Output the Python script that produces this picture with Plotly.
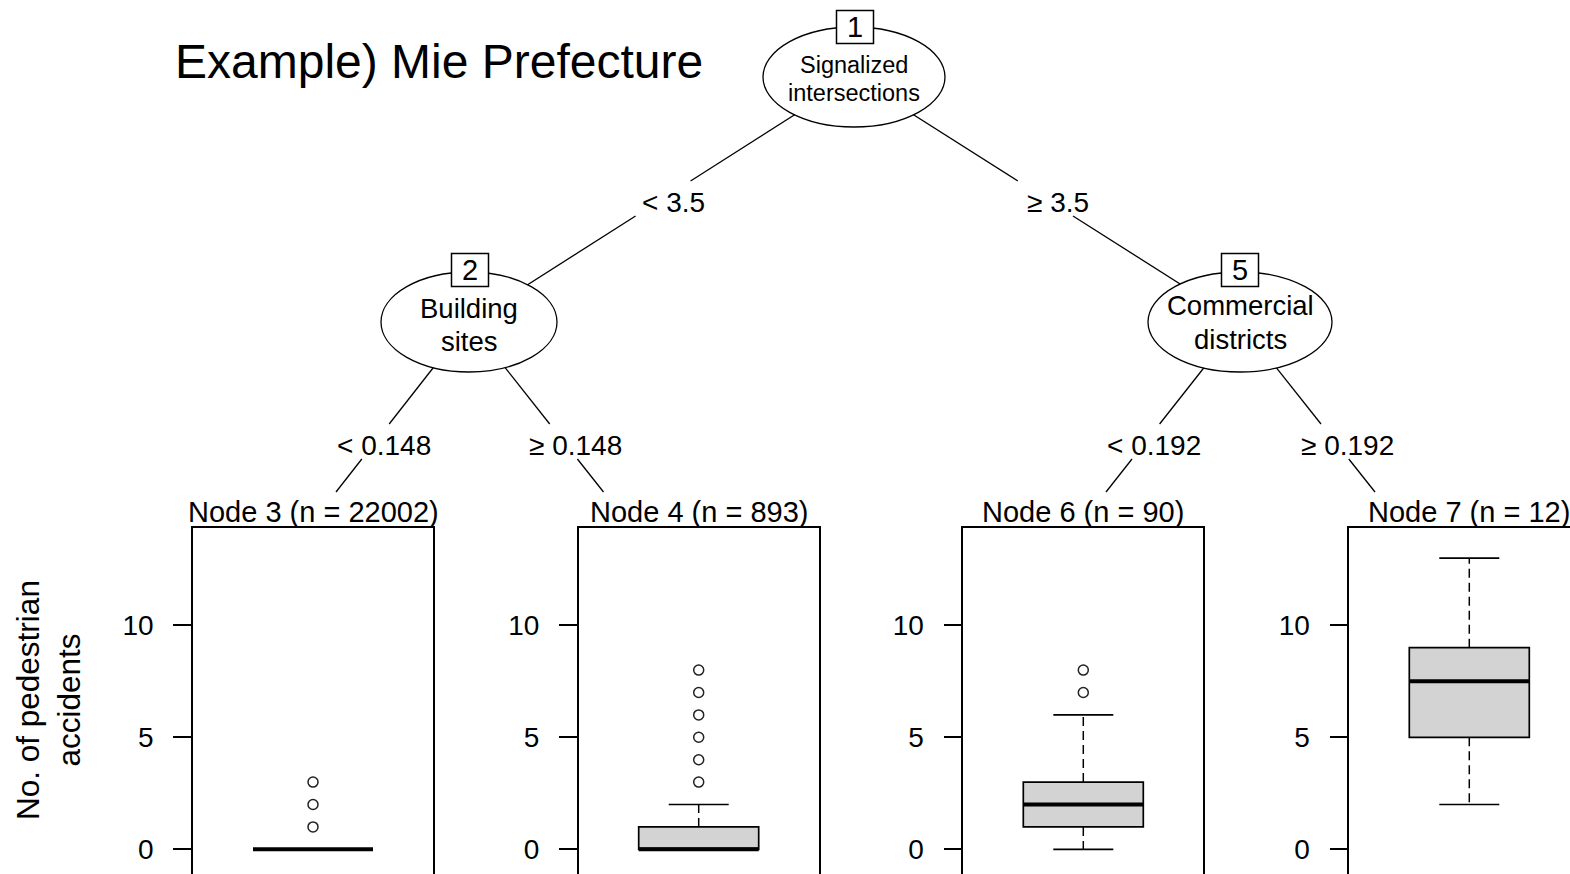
import plotly.graph_objects as go

# ---------------- data ----------------
title_text = "Example) Mie Prefecture"
y_title = "No. of pedestrian<br>accidents"

inner_ids = [1, 2, 5]
inner_labels = [["Signalized", "intersections"], ["Building", "sites"], ["Commercial", "districts"]]
split_labels = {1: ["< 3.5", "\u2265 3.5"], 2: ["< 0.148", "\u2265 0.148"], 5: ["< 0.192", "\u2265 0.192"]}

leaf_ids = [3, 4, 6, 7]
leaf_n = [22002, 893, 90, 12]
lower_whisker = [0, 0, 0, 2]
q1 = [0, 0, 1, 5]
median = [0, 0, 2, 7.5]
q3 = [0, 1, 3, 9]
upper_whisker = [0, 2, 6, 13]
outliers = [[1, 2, 3], [3, 4, 5, 6, 7, 8], [7, 8], []]
y_ticks = [0, 5, 10]

# ---------------- layout constants (pixels) ----------------
W, H = 1570, 874
FONT = "Liberation Sans, Arial, sans-serif"


def px(x):
    return x / W


def py(y):
    return 1 - y / H


# inner node geometry: center x, center y, rx, ry, font size for label
inner_geom = {
    1: dict(cx=854, cy=77, rx=91, ry=50, fs=23.5, l1=65, l2=93, bx=855, by=27),
    2: dict(cx=469, cy=322, rx=88, ry=50, fs=27.5, l1=308, l2=341, bx=470, by=270),
    5: dict(cx=1240, cy=322, rx=92, ry=50, fs=27.5, l1=305, l2=339, bx=1240, by=270),
}
panel_left = [193, 578.7, 963.3, 1349.3]
panel_w = 240
panel_top = 527.7
y_zero_px, y_ten_px = 849.3, 625.3
leaf_target = {3: 336, 4: 603.5, 6: 1106, 7: 1375}
edges = [
    (1, ("i", 2), 0, (181, 216), 202, 673),
    (1, ("i", 5), 1, (181, 216), 202, 1058),
    (2, ("l", 3), 0, (424, 459), 445, 384),
    (2, ("l", 4), 1, (424, 459), 445, 575),
    (5, ("l", 6), 0, (424, 459), 445, 1154),
    (5, ("l", 7), 1, (424, 459), 445, 1347),
]

fig = go.Figure()
shapes = []
annotations = []

# ---------------- edges ----------------
for parent, (kind, child), side, (g0, g1), lab_y, lab_x in edges:
    p = inner_geom[parent]
    x0, y0 = p["cx"], p["cy"]
    if kind == "i":
        x1, y1 = inner_geom[child]["cx"], inner_geom[child]["cy"]
    else:
        x1, y1 = leaf_target[child], 492

    def xat(y):
        return x0 + (x1 - x0) * (y - y0) / (y1 - y0)

    for (ya, yb) in [(y0, g0), (g1, y1)]:
        shapes.append(dict(type="line", xref="paper", yref="paper",
                           x0=px(xat(ya)), y0=py(ya), x1=px(xat(yb)), y1=py(yb),
                           line=dict(color="black", width=1.3)))
    annotations.append(dict(x=px(lab_x), y=py(lab_y), xref="paper", yref="paper",
                            text=split_labels[parent][side], showarrow=False,
                            xanchor="center", yanchor="middle",
                            font=dict(family=FONT, size=28, color="black")))

# ---------------- inner nodes ----------------
for nid, lab in zip(inner_ids, inner_labels):
    g = inner_geom[nid]
    shapes.append(dict(type="circle", xref="paper", yref="paper",
                       x0=px(g["cx"] - g["rx"]), x1=px(g["cx"] + g["rx"]),
                       y0=py(g["cy"] + g["ry"]), y1=py(g["cy"] - g["ry"]),
                       fillcolor="white", line=dict(color="black", width=1.3)))
    shapes.append(dict(type="rect", xref="paper", yref="paper",
                       x0=px(g["bx"] - 18.5), x1=px(g["bx"] + 18.5),
                       y0=py(g["by"] + 16.5), y1=py(g["by"] - 16.5),
                       fillcolor="white", line=dict(color="black", width=1.5)))
    annotations.append(dict(x=px(g["bx"]), y=py(g["by"]), xref="paper", yref="paper",
                            text=str(nid), showarrow=False, xanchor="center", yanchor="middle",
                            font=dict(family=FONT, size=29, color="black")))
    for txt, yy in [(lab[0], g["l1"]), (lab[1], g["l2"])]:
        annotations.append(dict(x=px(g["cx"]), y=py(yy), xref="paper", yref="paper",
                                text=txt, showarrow=False, xanchor="center", yanchor="middle",
                                font=dict(family=FONT, size=g["fs"], color="black")))

# ---------------- leaf boxplots ----------------
unit = (y_zero_px - y_ten_px) / 10.0
y_lo = -(H - y_zero_px) / unit
y_hi = (y_zero_px - panel_top) / unit

for i, nid in enumerate(leaf_ids):
    k = i + 1
    xa = "x" if k == 1 else f"x{k}"
    ya = "y" if k == 1 else f"y{k}"
    left = panel_left[i]
    right = min(left + panel_w, W)
    xr = [-0.5, -0.5 + (right - left) / panel_w]

    # whiskers (dashed)
    fig.add_trace(go.Scatter(x=[0, 0, None, 0, 0],
                             y=[q3[i], upper_whisker[i], None, q1[i], lower_whisker[i]],
                             mode="lines", line=dict(color="black", width=1.5, dash="9px,5px"),
                             xaxis=xa, yaxis=ya, showlegend=False, hoverinfo="skip"))
    # staples
    fig.add_trace(go.Scatter(x=[-0.125, 0.125, None, -0.125, 0.125],
                             y=[upper_whisker[i], upper_whisker[i], None, lower_whisker[i], lower_whisker[i]],
                             mode="lines", line=dict(color="black", width=1.7),
                             xaxis=xa, yaxis=ya, showlegend=False, hoverinfo="skip"))
    # box
    fig.add_trace(go.Box(x=[0], q1=[q1[i]], median=[median[i]], q3=[q3[i]],
                         lowerfence=[q1[i]], upperfence=[q3[i]], width=0.5, whiskerwidth=0,
                         fillcolor="#d3d3d3", line=dict(color="black", width=1.7),
                         boxpoints=False, xaxis=xa, yaxis=ya, showlegend=False, hoverinfo="skip"))
    # median (thick)
    fig.add_trace(go.Scatter(x=[-0.25, 0.25], y=[median[i], median[i]], mode="lines",
                             line=dict(color="black", width=4),
                             xaxis=xa, yaxis=ya, showlegend=False, hoverinfo="skip"))
    # outliers
    if outliers[i]:
        fig.add_trace(go.Scatter(x=[0] * len(outliers[i]), y=outliers[i], mode="markers",
                                 marker=dict(symbol="circle-open", size=10, color="#222",
                                             line=dict(width=1.5, color="#222")),
                                 xaxis=xa, yaxis=ya, showlegend=False, hoverinfo="skip"))

    fig.layout[("xaxis" if k == 1 else f"xaxis{k}")] = dict(
        domain=[px(left), px(right)], range=xr, side="top", anchor=ya,
        showline=True, linecolor="black", linewidth=1.5, showticklabels=False,
        ticks="", showgrid=False, zeroline=False, fixedrange=True)
    fig.layout[("yaxis" if k == 1 else f"yaxis{k}")] = dict(
        domain=[0, py(panel_top)], range=[y_lo, y_hi], anchor=xa,
        tickvals=y_ticks, ticks="outside", ticklen=18, tickwidth=1.5, tickcolor="black",
        ticklabelstandoff=14,
        showline=True, mirror=(k != 4), linecolor="black", linewidth=1.5,
        showgrid=False, zeroline=False, fixedrange=True,
        tickfont=dict(family=FONT, size=28, color="black"))

    annotations.append(dict(x=px(left + panel_w / 2), y=py(512), xref="paper", yref="paper",
                            text=f"Node {nid} (n = {leaf_n[i]})", showarrow=False,
                            xanchor="center", yanchor="middle",
                            font=dict(family=FONT, size=29, color="black")))

# ---------------- titles ----------------
annotations.append(dict(x=px(173), y=py(61), xref="paper", yref="paper", text=title_text,
                        showarrow=False, xanchor="left", yanchor="middle",
                        font=dict(family=FONT, size=48, color="black")))
annotations.append(dict(x=px(48), y=py(700), xref="paper", yref="paper", text=y_title,
                        showarrow=False, xanchor="center", yanchor="middle", textangle=-90,
                        font=dict(family=FONT, size=31.5, color="black")))

fig.update_layout(width=W, height=H, margin=dict(l=0, r=0, t=0, b=0),
                  paper_bgcolor="white", plot_bgcolor="white",
                  shapes=shapes, annotations=annotations, showlegend=False)

fig.write_html("out.html", config={"displayModeBar": False})
